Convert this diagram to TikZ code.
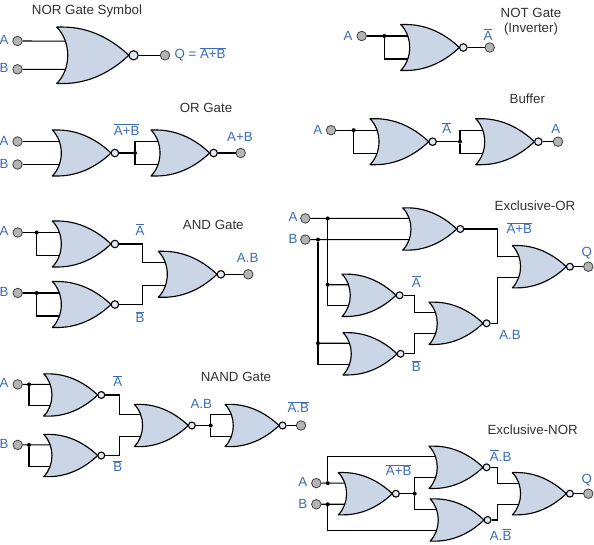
\documentclass[tikz,border=0pt]{standalone}
\usepackage{fontspec}
\setmainfont{Liberation Sans}
\usetikzlibrary{calc}
\definecolor{gatefill}{HTML}{CAD6E6}
\definecolor{termfill}{HTML}{B4B4B4}
\definecolor{labelblue}{HTML}{3A6DB5}
\definecolor{titlegray}{HTML}{303030}
\newcommand{\barlabel}[1]{$\overline{\mbox{#1}}$}
\tikzset{
	norgate/.pic={
		\draw[line width=1.15pt,line join=round,fill=gatefill]
			(0,-23) .. controls (12,-11) and (12,11) .. (0,23)
			-- (5,23) .. controls (28,23) and (46,12) .. (58.7,0)
			.. controls (46,-12) and (28,-23) .. (5,-23) -- cycle;
		\node[BubbleNode,transform shape] (-o) at (62.6,0){};
		\coordinate (-a) at (6.9,-11.5);
		\coordinate (-b) at (6.9,11.5);
	}
}
\begin{document}
\begin{tikzpicture}
		[x=1pt,y=-1pt,line width=1.1pt,
		BubbleNode/.style={circle,draw=black,fill=gatefill!50,line width=1.1pt,inner sep=0pt,minimum size=7.5pt},
		TermNode/.style={circle,draw=black!75,fill=termfill,line width=0.8pt,inner sep=0pt,minimum size=9.5pt},
		DotNode/.style={circle,fill=black,inner sep=0pt,outer sep=0pt,minimum size=4pt},
		BlueText/.style={text=labelblue,inner sep=0pt,font=\fontsize{13.3}{15}\selectfont},
		TitleText/.style={text=titlegray,inner sep=0pt,yshift=-1pt,font=\fontsize{13.3}{16}\selectfont}]

		\useasboundingbox (0,0) rectangle (594,545);

		% all gates: name/scale/x/y
		\foreach \n/\s/\px/\py in {
			a1/1.228/56.7/55.3,
			b1/1/52.3/153,b2/1/151/153,
			c1/1/400.7/47.5,
			d1/1/370/141.7,d2/1/475.7/141.7,
			e1/1/52.3/244,e2/1/52.3/304.5,e3/1/158.3/274.3,
			f1/0.92/43.7/395,f2/0.92/43.7/455.5,f3/0.92/134.3/425.5,f4/0.92/225/425.5,
			g1/0.92/402.7/229,g2/0.92/342/295.3,g3/0.92/343/353.8,g4/0.92/429/323.3,g5/0.92/512.3/266.7,
			h1/0.92/338.3/493.7,h2/0.92/429/467.3,h3/0.92/430/520,h4/0.92/512.3/493.7}
		\pic[scale=\s] (\n) at (\px,\py) {norgate};

		% all grey terminals
		\foreach \n/\px/\py in {
			ta1/17.5/41,tb1/17.5/69.3,tq1/165/55.3,
			ta2/17.5/141.5,tb2/17.5/164.5,tq2/240.7/153,
			ta3/361.7/36,tq3/489.7/47.5,
			ta4/331/130.2,tq4/558/141.7,
			ta5/17.7/232.5,tb5/17.7/293,tq5/248.3/274.3,
			ta6/17.7/384.4,tb6/17.7/444.9,tq6/301/425.5,
			ta7/305.3/218.4,tb7/305.3/239.6,tq7/588.3/266.7,
			ta8/316.3/483.1,tb8/316.3/504.3,tq8/588.3/493.7}
		\node[TermNode] (\n) at (\px,\py){};

		% all junction dots
		\foreach \n/\px/\py in {
			d2/135/153,
			d3/384.3/36,
			d4/353.7/130.2,d5/460/141.7,
			d6/36.7/232.5,d7/36.7/293,
			d8/29/384.4,d9/29/444.9,d10/210.7/425.5,
			d11/327.7/218.4,d12/318/239.6,d13/327.7/284.7,d14/318/343.2,
			d15/327.7/483.1,d16/327.7/504.3,d17/414.7/493.7}
		\node[DotNode] (\n) at (\px,\py){};

		% bends of the stepped wires
		\foreach \n/\px in {w5/142.7,w6/119.7,w7/497.7,w8/414.3,w9/497.7}
		\coordinate (\n) at (\px,0);

		% NOR gate symbol
		\draw (ta1)--(a1-a);
		\draw (tb1)--(a1-b);
		\draw (a1-o)--(tq1);

		% OR gate
		\draw (ta2)--(b1-a);
		\draw (tb2)--(b1-b);
		\draw (b1-o)--(d2);
		\draw (b2-a)-|(d2)|-(b2-b);
		\draw (b2-o)--(tq2);

		% NOT gate
		\draw (ta3)--(c1-a);
		\draw (d3)|-(c1-b);
		\draw (c1-o)--(tq3);

		% buffer
		\draw (ta4)--(d1-a);
		\draw (d4)|-(d1-b);
		\draw (d1-o)--(d5);
		\draw (d2-a)-|(d5)|-(d2-b);
		\draw (d2-o)--(tq4);

		% AND gate
		\draw (ta5)--(e1-a);
		\draw (d6)|-(e1-b);
		\draw (tb5)--(e2-a);
		\draw (d7)|-(e2-b);
		\draw (e1-o)-|(w5|-e3-a)--(e3-a);
		\draw (e2-o)-|(w5|-e3-b)--(e3-b);
		\draw (e3-o)--(tq5);

		% NAND gate
		\draw (ta6)--(f1-a);
		\draw (d8)|-(f1-b);
		\draw (tb6)--(f2-a);
		\draw (d9)|-(f2-b);
		\draw (f1-o)-|(w6|-f3-a)--(f3-a);
		\draw (f2-o)-|(w6|-f3-b)--(f3-b);
		\draw (f3-o)--(d10);
		\draw (f4-a)-|(d10)|-(f4-b);
		\draw (f4-o)--(tq6);

		% exclusive-OR
		\draw (ta7)--(g1-a);
		\draw (tb7)--(g1-b);
		\draw (d13)--(g2-a);
		\draw (d11)|-(g2-b);
		\draw (d14)--(g3-a);
		\draw (d12)|-(g3-b);
		\draw (g2-o)-|(w8|-g4-a)--(g4-a);
		\draw (g3-o)-|(w8|-g4-b)--(g4-b);
		\draw (g1-o)-|(w7|-g5-a)--(g5-a);
		\draw (g4-o)-|(w7|-g5-b)--(g5-b);
		\draw (g5-o)--(tq7);

		% exclusive-NOR
		\draw (ta8)--(h1-a);
		\draw (tb8)--(h1-b);
		\draw (d15)|-(h2-a);
		\draw (d16)|-(h3-b);
		\draw (h1-o)--(d17);
		\draw (h2-b)-|(d17)|-(h3-a);
		\draw (h2-o)-|(w9|-h4-a)--(h4-a);
		\draw (h3-o)-|(w9|-h4-b)--(h4-b);
		\draw (h4-o)--(tq8);

		% titles
		\node[TitleText] (l_nor) at (87,10){NOR Gate Symbol};
		\node[TitleText] (l_or) at (206,107){OR Gate};
		\node[TitleText] (l_not) at (531,12){NOT Gate};
		\node[TitleText] (l_inv) at (531,28){(Inverter)};
		\node[TitleText] (l_buf) at (527.3,97.7){Buffer};
		\node[TitleText] (l_and) at (213.3,224.3){AND Gate};
		\node[TitleText] (l_nand) at (236,375.7){NAND Gate};
		\node[TitleText] (l_xor) at (535,204.7){Exclusive-OR};
		\node[TitleText] (l_xnor) at (532.7,428.3){Exclusive-NOR};

		% blue letters at the terminals
		\foreach \n/\px/\py/\t in {
			p1/4/40/A,p2/4/68/B,
			p3/4/141/A,p4/4/163.5/B,p5/240/137/A+B,
			p6/348/35.5/A,p7/317.7/130/A,p8/555.7/128.5/A,
			p9/4/231/A,p10/4/292/B,p11/247.7/258.3/A.B,
			p12/4/383/A,p13/4/443.5/B,p14/201.3/404/A.B,
			p15/293/217/A,p16/293/239/B,p17/586.7/252.7/Q,p18/510/335.3/A.B,
			p19/302.7/481.7/A,p20/302.7/504.3/B,p21/586.7/480/Q}
		\node[BlueText] (\n) at (\px,\py){\t};

		% barred labels
		\node[BlueText,anchor=west] (q_1) at (174,54.5){Q = \barlabel{A+B}};
		\node[BlueText] (q_2) at (126.7,129.5){\barlabel{A+B}};
		\node[BlueText] (q_3) at (488,34.5){\barlabel{A}};
		\node[BlueText] (q_4) at (446.7,128){\barlabel{A}};
		\node[BlueText] (q_5) at (140,229.5){\barlabel{A}};
		\node[BlueText] (q_6) at (140,317){\barlabel{B}};
		\node[BlueText] (q_7) at (117.7,381){\barlabel{A}};
		\node[BlueText] (q_8) at (117.7,466){\barlabel{B}};
		\node[BlueText] (q_9) at (298.3,407){\barlabel{A.B}};
		\node[BlueText] (q_10) at (519.3,228){\barlabel{A+B}};
		\node[BlueText] (q_11) at (416.3,281.5){\barlabel{A}};
		\node[BlueText] (q_12) at (416.3,366){\barlabel{B}};
		\node[BlueText] (q_13) at (398.7,470){\barlabel{A+B}};
		\node[BlueText] (q_14) at (500.7,455.5){\barlabel{A}.B};
		\node[BlueText] (q_15) at (500.7,534.5){A.\barlabel{B}};
	\end{tikzpicture}
\end{document}
